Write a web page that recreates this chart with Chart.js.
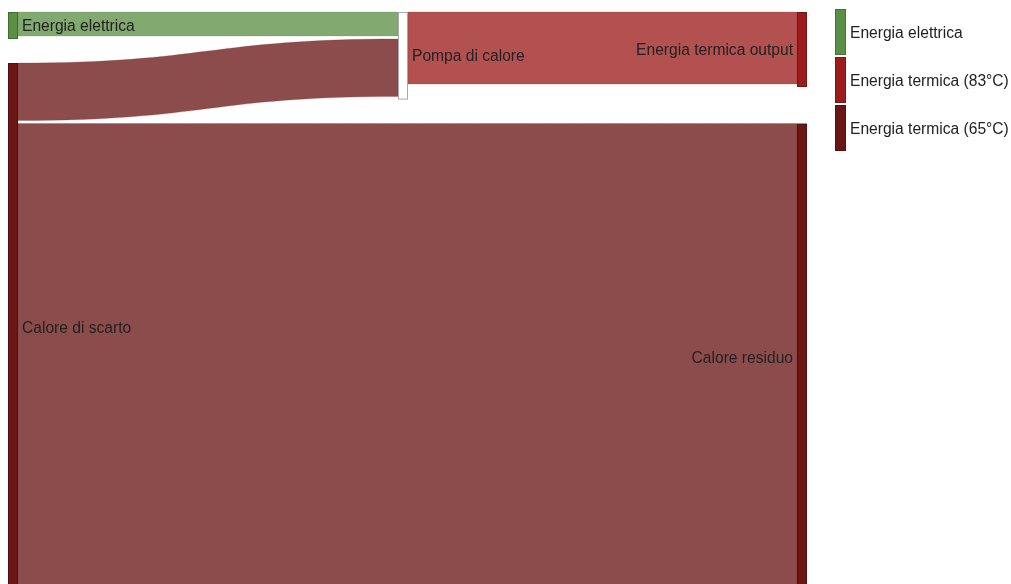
<!DOCTYPE html>
<html lang="it">
<head>
<meta charset="UTF-8">
<title>Pompa di calore - flussi energetici</title>
<script src="https://cdn.jsdelivr.net/npm/chart.js"></script>
<style>
  html, body { margin: 0; padding: 0; background: #fff; }
  #wrap { width: 1011px; height: 584px; position: relative; }
</style>
</head>
<body>
<div id="wrap"><canvas id="sankey"></canvas></div>

<script>
  // nodi del diagramma
  const nodeNames = ['Energia elettrica', 'Calore di scarto', 'Pompa di calore', 'Energia termica output', 'Calore residuo'];
  const nodeColumn = [0, 0, 1, 2, 2];
  const nodeType = ['el', 't65', 'hp', 't83', 't65'];

  // flussi (da, a, valore)
  const linkFrom = [0, 1, 2, 1];
  const linkTo = [2, 2, 3, 4];
  const linkValue = [10, 24, 30, 194];
  const linkType = ['el', 't65', 't83', 't65'];

  // legenda
  const legendKeys = ['el', 't83', 't65'];
  const legendLabels = ['Energia elettrica', 'Energia termica (83°C)', 'Energia termica (65°C)'];

  const typeColor = { el: '#5b8f45', t83: '#9c1c1c', t65: '#6b1616', hp: '#ffffff' };
  const COL_POS = [0, 0.4943, 1];  // posizione orizzontale delle colonne (0..1)
  const FLOW_ALPHA = 0.77;
  const FLOW_GAP = 1.25;   // spazio tra flussi sullo stesso nodo
  const NODE_GAP = 10;     // spazio tra nodi della stessa colonna
  const NODE_W = 10;
  const FONT = '15.6px "Liberation Sans", Arial, sans-serif';

  function rgba(hex, a) {
    const n = parseInt(hex.slice(1), 16);
    return `rgba(${(n >> 16) & 255}, ${(n >> 8) & 255}, ${n & 255}, ${a})`;
  }

  // calcola posizioni (in unita' del valore) di nodi e flussi
  function layout() {
    const nodes = nodeNames.map((name, i) => ({ name, col: nodeColumn[i], type: nodeType[i], inSum: 0, outSum: 0, nIn: 0, nOut: 0 }));
    const links = linkValue.map((v, k) => ({ from: linkFrom[k], to: linkTo[k], v, type: linkType[k] }));
    links.forEach(l => {
      nodes[l.from].outSum += l.v; nodes[l.from].nOut++;
      nodes[l.to].inSum += l.v; nodes[l.to].nIn++;
    });
    nodes.forEach(n => n.size = Math.max(n.inSum + n.nIn * FLOW_GAP, n.outSum + n.nOut * FLOW_GAP));

    const maxCol = Math.max(...nodeColumn);
    for (let c = 0; c <= maxCol; c++) {
      let bottom = null;
      nodes.forEach((n, i) => {
        if (n.col !== c) return;
        let y = bottom === null ? 0 : bottom + NODE_GAP;
        const first = links.find(l => l.to === i);
        if (first && first.y0 !== undefined) y = Math.max(y, first.y0);
        n.y0 = y;
        n.y1 = y + n.size;
        let oy = y, iy = y;
        links.forEach(l => {
          if (l.from === i) { l.y0 = oy; oy += l.v + FLOW_GAP; }
          if (l.to === i) { l.y1 = iy; iy += l.v + FLOW_GAP; }
        });
        bottom = n.y1;
      });
    }
    return { nodes, links };
  }

  const sankeyPlugin = {
    id: 'sankey',
    afterDraw(chart) {
      const { ctx, scales: { x, y } } = chart;
      const { nodes, links } = layout();
      const lastCol = Math.max(...nodeColumn);
      const colX = c => x.getPixelForValue(COL_POS[c]);
      ctx.save();

      // flussi
      links.forEach(l => {
        const xs = colX(nodes[l.from].col) + NODE_W;
        const xt = colX(nodes[l.to].col);
        const s0 = y.getPixelForValue(l.y0), s1 = y.getPixelForValue(l.y0 + l.v);
        const t0 = y.getPixelForValue(l.y1), t1 = y.getPixelForValue(l.y1 + l.v);
        const xm = (xs + xt) / 2;
        ctx.beginPath();
        ctx.moveTo(xs, s0);
        ctx.bezierCurveTo(xm, s0, xm, t0, xt, t0);
        ctx.lineTo(xt, t1);
        ctx.bezierCurveTo(xm, t1, xm, s1, xs, s1);
        ctx.closePath();
        ctx.fillStyle = rgba(typeColor[l.type], FLOW_ALPHA);
        ctx.fill();
        ctx.lineWidth = 0.6;
        ctx.strokeStyle = rgba(typeColor[l.type], 0.35);
        ctx.stroke();
      });

      // nodi
      nodes.forEach(n => {
        const px = colX(n.col);
        const p0 = y.getPixelForValue(n.y0), p1 = y.getPixelForValue(n.y1);
        ctx.fillStyle = typeColor[n.type];
        ctx.fillRect(px, p0, NODE_W, p1 - p0);
        ctx.lineWidth = 1;
        ctx.strokeStyle = n.type === 'hp' ? '#aaaaaa' : 'rgba(0,0,0,0.25)';
        ctx.strokeRect(px + 0.5, p0 + 0.5, NODE_W - 1, p1 - p0 - 1);
      });

      // etichette
      ctx.font = FONT;
      ctx.fillStyle = '#222';
      ctx.textBaseline = 'middle';
      nodes.forEach(n => {
        const px = colX(n.col);
        const cy = (y.getPixelForValue(n.y0) + y.getPixelForValue(n.y1)) / 2 + 1;
        if (n.col === lastCol) {
          ctx.textAlign = 'right';
          ctx.fillText(n.name, px - 4, cy);
        } else {
          ctx.textAlign = 'left';
          ctx.fillText(n.name, px + NODE_W + 4, cy);
        }
      });
      ctx.restore();
    }
  };

  // legenda a destra con riquadri alti
  const legendPlugin = {
    id: 'tallLegend',
    afterDraw(chart) {
      const { ctx } = chart;
      const left = 835, top = 9, boxW = 11, boxH = 46, step = 48;
      ctx.save();
      ctx.font = FONT;
      ctx.textBaseline = 'middle';
      ctx.textAlign = 'left';
      legendKeys.forEach((k, i) => {
        const by = top + i * step;
        ctx.fillStyle = typeColor[k];
        ctx.fillRect(left, by, boxW, boxH);
        ctx.strokeStyle = 'rgba(0,0,0,0.2)';
        ctx.strokeRect(left + 0.5, by + 0.5, boxW - 1, boxH - 1);
        ctx.fillStyle = '#222';
        ctx.fillText(legendLabels[i], left + boxW + 4, by + boxH / 2 + 2);
      });
      ctx.restore();
    }
  };

  new Chart(document.getElementById('sankey'), {
    type: 'scatter',
    data: { datasets: [] },
    options: {
      responsive: true,
      maintainAspectRatio: false,
      animation: false,
      layout: { padding: 0 },
      plugins: { legend: { display: false }, tooltip: { enabled: false } },
      scales: {
        x: { type: 'linear', min: -0.01014, max: 1.27123, display: false },
        y: { type: 'linear', min: -5, max: 238.33, reverse: true, display: false }
      }
    },
    plugins: [sankeyPlugin, legendPlugin]
  });
</script>
</body>
</html>
